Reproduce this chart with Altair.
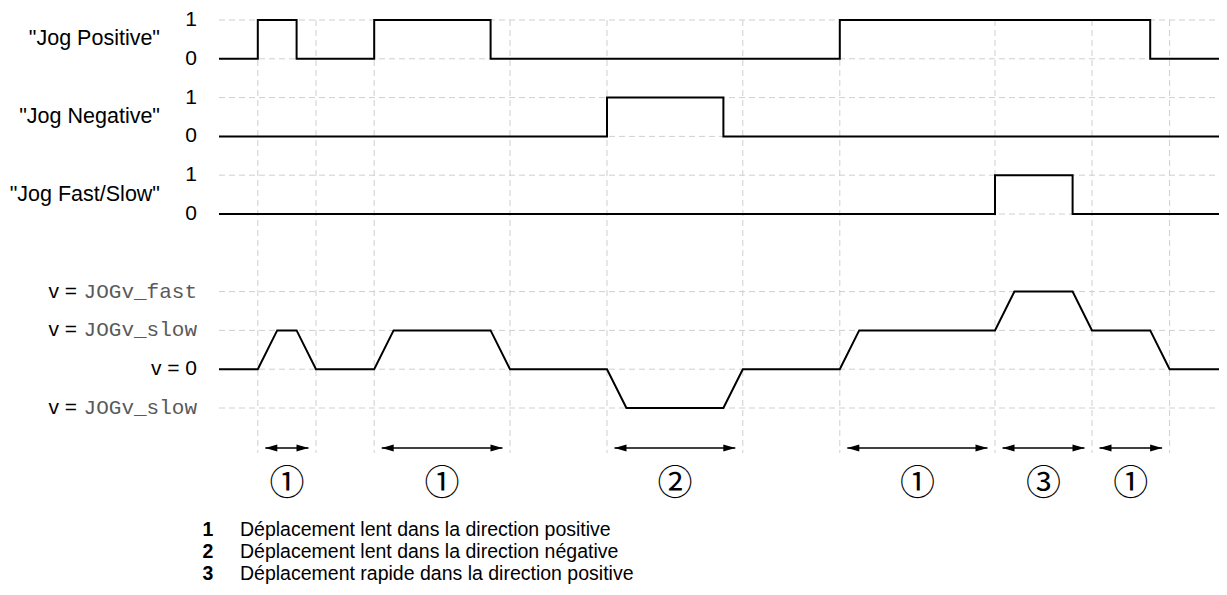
import altair as alt
import pandas as pd

# ---------------- data (time in ramp units, signal levels) ----------------
JP_T = [0, 2, 4, 8, 14, 32, 48, 52]
JP_V = [0, 1, 0, 1, 0, 1, 0, 0]
JN_T = [0, 20, 26, 52]
JN_V = [0, 1, 0, 0]
FS_T = [0, 40, 44, 52]
FS_V = [0, 1, 0, 0]
VEL_T = [0, 2, 3, 4, 5, 8, 9, 14, 15, 20, 21, 26, 27, 32, 33, 40, 41, 44, 45, 48, 49, 52]
VEL_V = [0, 0, 1, 1, 0, 0, 1, 1, 0, 0, -1, -1, 0, 0, 1, 1, 2, 2, 1, 1, 0, 0]

SIGNAL_NAMES = ['"Jog Positive"', '"Jog Negative"', '"Jog Fast/Slow"']
VEL_LABELS = ["JOGv_fast", "JOGv_slow", "0", "JOGv_slow"]
VEL_LEVELS = [2, 1, 0, -1]

GRID_T = [2, 5, 8, 15, 20, 27, 32, 40, 45, 49]
SEG_START = [2, 8, 20, 32, 40, 45]
SEG_END = [5, 15, 27, 40, 45, 49]
SEG_LABEL = ["①", "①", "②", "①", "③", "①"]

LEG_NUM = ["1", "2", "3"]
LEG_TEXT = [
    "Déplacement lent dans la direction positive",
    "Déplacement lent dans la direction négative",
    "Déplacement rapide dans la direction positive",
]

# ---------------- layout ----------------
PX_PER_T = 19.4
PX_PER_LVL = 38.8
W, H = 1211, 579
T_LEFT = -(219 - 8) / PX_PER_T
T_RIGHT = T_LEFT + W / PX_PER_T
L_TOP = 10 + (20 - 8) / PX_PER_LVL
L_BOT = L_TOP - H / PX_PER_LVL
T_END = 52

LANE_BASE = [9, 7, 5]
VEL_BASE = 1

SANS = "Liberation Sans, Arial, Helvetica, sans-serif"
MONO = "Liberation Mono, Courier New, monospace"

xs = alt.Scale(domain=[T_LEFT, T_RIGHT], nice=False, zero=False)
ys = alt.Scale(domain=[L_BOT, L_TOP], nice=False, zero=False)


def X(f):
    return alt.X(f, type="quantitative", scale=xs, axis=None)


def Y(f):
    return alt.Y(f, type="quantitative", scale=ys, axis=None)


def lvl(py):
    return 10 - (py - 20) / PX_PER_LVL


def tx(px):
    return (px - 219) / PX_PER_T


# ---------------- tables ----------------
rows = []
for name, base, ts, vs in zip(SIGNAL_NAMES, LANE_BASE, [JP_T, JN_T, FS_T], [JP_V, JN_V, FS_V]):
    for t, v in zip(ts, vs):
        rows.append({"sig": name, "t": t, "y": base + v})
dig = pd.DataFrame(rows)
vel = pd.DataFrame({"t": VEL_T, "y": [VEL_BASE + v for v in VEL_V]})

h_levels = []
for base in LANE_BASE:
    h_levels += [base, base + 1]
h_levels += [VEL_BASE + l for l in VEL_LEVELS]
hgrid = pd.DataFrame({"y": h_levels, "t0": 0, "t1": T_END})
vgrid = pd.DataFrame({"t": GRID_T, "y0": 10, "y1": lvl(453)})

ARROW_Y = lvl(448)
INSET = 7.5 / PX_PER_T
HEAD = 12 / PX_PER_T
segs = pd.DataFrame({"s": SEG_START, "e": SEG_END, "lab": SEG_LABEL})
segs["a"] = segs["s"] + INSET
segs["b"] = segs["e"] - INSET
segs["m"] = (segs["s"] + segs["e"]) / 2
segs["y"] = ARROW_Y
segs["cy"] = lvl(484)
heads_l = pd.DataFrame({"t": segs["a"] + HEAD / 2, "y": ARROW_Y})
heads_r = pd.DataFrame({"t": segs["b"] - HEAD / 2, "y": ARROW_Y})

name_df = pd.DataFrame({"lab": SIGNAL_NAMES, "t": tx(160), "y": [b + 0.5 for b in LANE_BASE]})
tick_rows = []
for base in LANE_BASE:
    tick_rows += [{"lab": "1", "t": tx(197), "y": base + 1}, {"lab": "0", "t": tx(197), "y": base}]
tick_df = pd.DataFrame(tick_rows)

vel_df = pd.DataFrame({"lab": VEL_LABELS, "y": [VEL_BASE + l for l in VEL_LEVELS]})
vel_mono = vel_df[vel_df["lab"] != "0"].copy()
vel_mono["t"] = tx(197)
vel_v = vel_df[vel_df["lab"] != "0"].copy()
vel_v["t"] = tx(77)
vel_v["txt"] = "v ="
vel_zero = vel_df[vel_df["lab"] == "0"].copy()
vel_zero["t"] = tx(197)
vel_zero["txt"] = "v = 0"

leg = pd.DataFrame({"num": LEG_NUM, "txt": LEG_TEXT,
                    "y": [lvl(530), lvl(552), lvl(574)]})
leg["tn"] = tx(208)
leg["tt"] = tx(240)

# ---------------- marks ----------------
GRID_COLOR = "#cfcfcf"
DASH = [6, 4]

hg = alt.Chart(hgrid).mark_rule(color=GRID_COLOR, strokeDash=DASH, strokeWidth=1).encode(
    x=X("t0"), x2="t1", y=Y("y"))
vg = alt.Chart(vgrid).mark_rule(color=GRID_COLOR, strokeDash=DASH, strokeWidth=1).encode(
    x=X("t"), y=Y("y0"), y2="y1")

dig_line = alt.Chart(dig).mark_line(color="black", strokeWidth=2, interpolate="step-after").encode(
    x=X("t"), y=Y("y"), detail="sig:N", order="t:Q")
vel_line = alt.Chart(vel).mark_line(color="black", strokeWidth=2).encode(
    x=X("t"), y=Y("y"), order="t:Q")

shaft = alt.Chart(segs).mark_rule(color="black", strokeWidth=1.6).encode(
    x=X("a"), x2="b", y=Y("y"))
LEFT_HEAD = "M -1 0 L 1 -0.6 L 1 0.6 Z"
RIGHT_HEAD = "M 1 0 L -1 -0.6 L -1 0.6 Z"
hl = alt.Chart(heads_l).mark_point(shape=LEFT_HEAD, size=144, filled=True, color="black", opacity=1).encode(
    x=X("t"), y=Y("y"))
hr = alt.Chart(heads_r).mark_point(shape=RIGHT_HEAD, size=144, filled=True, color="black", opacity=1).encode(
    x=X("t"), y=Y("y"))
circ = alt.Chart(segs).mark_text(font="Noto Sans CJK JP", fontSize=35, baseline="middle", align="center",
                                 color="black").encode(x=X("m"), y=Y("cy"), text="lab:N")

names = alt.Chart(name_df).mark_text(font=SANS, fontSize=21.5, align="right", baseline="middle",
                                     color="black").encode(x=X("t"), y=Y("y"), text="lab:N")
ticks = alt.Chart(tick_df).mark_text(font=SANS, fontSize=21, align="right", baseline="middle",
                                     color="black").encode(x=X("t"), y=Y("y"), text="lab:N")
vm = alt.Chart(vel_mono).mark_text(font=MONO, fontSize=21, align="right", baseline="middle",
                                   color="#5a5a5a").encode(x=X("t"), y=Y("y"), text="lab:N")
vv = alt.Chart(vel_v).mark_text(font=SANS, fontSize=21, align="right", baseline="middle",
                                color="black").encode(x=X("t"), y=Y("y"), text="txt:N")
vz = alt.Chart(vel_zero).mark_text(font=SANS, fontSize=21, align="right", baseline="middle",
                                   color="black").encode(x=X("t"), y=Y("y"), text="txt:N")

ln = alt.Chart(leg).mark_text(font=SANS, fontSize=19.5, fontWeight="bold", align="center", baseline="middle",
                              color="black").encode(x=X("tn"), y=Y("y"), text="num:N")
lt = alt.Chart(leg).mark_text(font=SANS, fontSize=19.5, align="left", baseline="middle",
                              color="black").encode(x=X("tt"), y=Y("y"), text="txt:N")

chart = alt.layer(hg, vg, dig_line, vel_line, shaft, hl, hr, circ, names, ticks, vm, vv, vz, ln, lt).properties(
    width=W, height=H, padding=0, autosize=alt.AutoSizeParams(type="none"), background="white"
).configure_view(strokeWidth=0)

chart.save("out.html", embed_options={"renderer": "svg", "actions": False})
